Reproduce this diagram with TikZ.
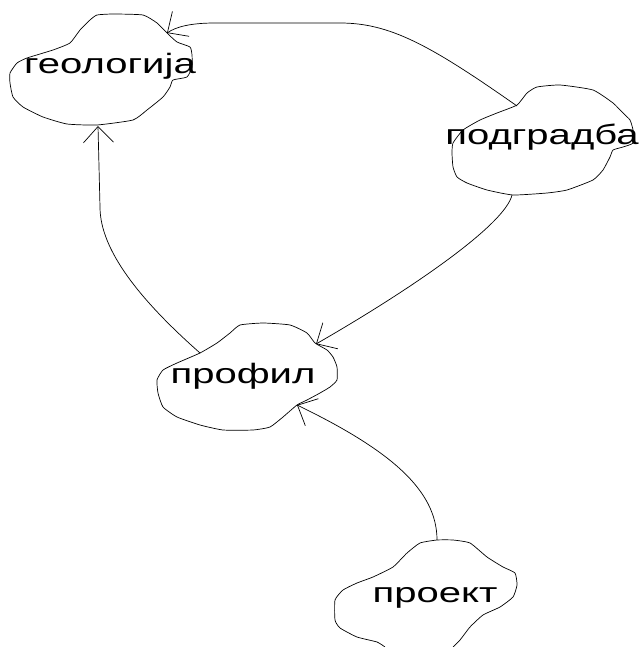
\documentclass[tikz,border=0pt]{standalone}
\usepackage{fontspec}
\setmainfont{Liberation Sans}[FakeStretch=1.43]
\usetikzlibrary{arrows.meta}

\begin{document}
\begin{tikzpicture}[x = 1pt, y = -1pt, font = \fontsize{28}{30}\selectfont]
	\tikzstyle{blobStyle} = [line width = 0.7pt, line join = round]
	\tikzstyle{labelStyle} = [anchor = base, inner sep = 0pt]
	\tikzstyle{EdgeStyle} = [line width = 0.7pt, -{Straight Barb[length = 16pt, width = 30pt, line width = 0.7pt]}]
	\useasboundingbox (0,0) rectangle (642,647);
	\node[labelStyle] (geologija) at (110,74) {геологија};
	\node[labelStyle] (podgradba) at (542,145) {подградба};
	\node[labelStyle] (profil) at (243,383) {профил};
	\node[labelStyle] (projekt) at (435,602) {проект};
	\draw[blobStyle] plot[smooth cycle, tension = 0.3] coordinates {(97,15) (113,14) (143,15) (157,23) (167,33) (177,42) (190,47) (192,55) (192,67) (187,77) (173,80) (170,87) (163,97) (147,110) (133,120) (97,125) (67,124) (43,117) (23,107) (13,97) (10,83) (10,73) (17,63) (27,58) (53,50) (70,43) (80,30) (90,20)};
	\draw[blobStyle] plot[smooth cycle, tension = 0.3] coordinates {(517,105) (527,93) (537,87) (560,85) (593,90) (613,103) (623,113) (630,120) (633,130) (633,143) (623,147) (613,150) (610,157) (603,170) (593,180) (567,190) (547,193) (513,195) (487,190) (467,183) (457,177) (453,167) (452,153) (453,143) (463,130) (480,120) (497,113)};
	\draw[blobStyle] plot[smooth cycle, tension = 0.3] coordinates {(200,353) (217,343) (230,333) (240,325) (263,323) (290,325) (307,333) (315,343) (327,350) (333,357) (337,367) (337,380) (330,387) (320,393) (307,400) (297,405) (283,417) (270,427) (253,430) (223,430) (200,425) (177,417) (163,407) (158,393) (157,380) (163,370) (177,363)};
	\draw[blobStyle] plot[smooth, tension = 0.3] coordinates {(385,647) (377,642) (357,637) (340,628) (335,620) (335,600) (343,590) (357,583) (373,577) (393,567) (407,553) (420,543) (437,540) (453,540) (470,543) (487,557) (503,567) (515,573) (517,585) (513,597) (500,607) (483,615) (470,627) (460,640) (453,647)};
	\coordinate (geologija-a) at (167,33);
	\coordinate (geologija-b) at (98,126);
	\coordinate (podgradba-a) at (517,106);
	\coordinate (podgradba-b) at (512,195);
	\coordinate (profil-a) at (200,353);
	\coordinate (profil-b) at (316,344);
	\coordinate (profil-c) at (297,405);
	\coordinate (projekt-a) at (437,540);
	\draw[EdgeStyle] (podgradba-a) .. controls (430,45) and (390,23) .. (340,23) -- (215,23) .. controls (190,23) and (176,27) .. (geologija-a);
	\draw[EdgeStyle] (profil-a) .. controls (140,300) and (100,250) .. (100,207) -- (geologija-b);
	\draw[EdgeStyle] (podgradba-b) .. controls (505,225) and (410,290) .. (profil-b);
	\draw[EdgeStyle] (projekt-a) .. controls (437,490) and (390,450) .. (profil-c);
\end{tikzpicture}
\end{document}
